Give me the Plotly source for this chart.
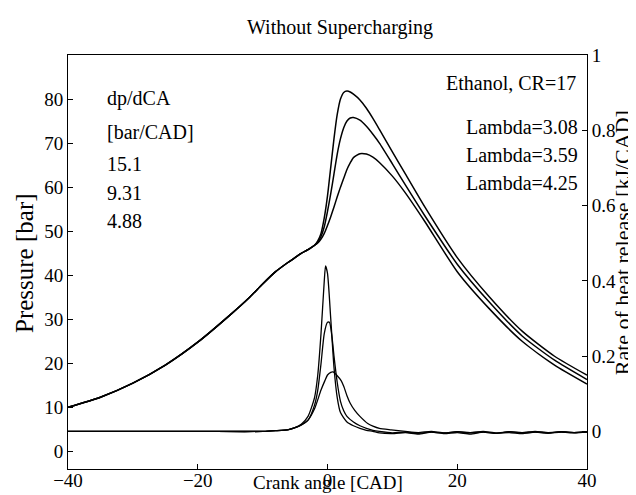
import plotly.graph_objects as go

# ---------------- data ----------------
# shared compression part of the pressure trace
cad_comp = [-40, -35, -30, -25, -20, -15, -12, -10, -8, -6, -5, -4, -3, -2]
p_comp = [10.0, 12.3, 15.5, 19.6, 24.8, 31.0, 35.0, 38.0, 40.8, 43.0, 44.0, 45.0, 45.8, 46.8]

cad_comb = [-1.5, -1, -0.5, 0, 0.5, 1, 1.5, 2, 2.5, 3, 3.5, 4, 5, 6, 7, 8, 10, 12, 15, 20, 25, 30, 35, 40]
p_lam308 = [47.8, 49.5, 53.0, 58.0, 64.5, 71.0, 76.5, 80.0, 81.5, 81.8, 81.6, 81.1, 79.8, 77.9, 75.6, 73.1, 68.0, 63.0, 55.5, 44.0, 35.0, 27.3, 21.6, 17.3]
p_lam359 = [47.5, 48.8, 51.0, 54.5, 58.5, 63.0, 67.5, 71.0, 73.5, 75.0, 75.7, 75.8, 75.2, 73.8, 72.0, 70.0, 65.3, 60.5, 53.5, 42.5, 33.8, 26.2, 20.7, 16.3]
p_lam425 = [47.3, 48.2, 49.5, 51.3, 53.3, 55.5, 57.8, 60.0, 62.0, 64.0, 65.5, 66.7, 67.6, 67.5, 66.8, 65.6, 62.5, 58.7, 52.2, 40.8, 32.3, 25.0, 19.6, 15.3]

# rate of heat release [kJ/CAD]
cad_r1 = [-40, -20, -10, -8, -6, -5, -4, -3, -2, -1.5, -1, -0.5, -0.3, 0, 0.5, 1, 1.5, 2, 3, 4, 5, 6, 7, 8, 10, 12, 14, 16, 18, 20, 22, 24, 26, 28, 30, 32, 34, 36, 38, 40]
r_lam308 = [0, 0, 0, 0.002, 0.005, 0.01, 0.02, 0.04, 0.09, 0.15, 0.26, 0.40, 0.44, 0.42, 0.30, 0.17, 0.09, 0.05, 0.025, 0.015, 0.008, 0.003, 0.0, -0.004, -0.006, -0.003, -0.007, -0.002, -0.006, -0.003, -0.007, -0.002, -0.005, -0.003, -0.006, -0.002, -0.005, -0.002, -0.004, -0.002]
cad_r2 = [-40, -20, -10, -8, -6, -5, -4, -3, -2, -1.5, -1, -0.5, 0, 0.3, 0.7, 1, 1.5, 2, 2.5, 3, 4, 5, 6, 7, 8, 10, 12, 14, 16, 18, 20, 22, 24, 26, 28, 30, 32, 34, 36, 38, 40]
r_lam359 = [0, 0, 0, 0.002, 0.005, 0.01, 0.018, 0.03, 0.07, 0.11, 0.18, 0.26, 0.29, 0.29, 0.25, 0.20, 0.13, 0.08, 0.055, 0.04, 0.025, 0.015, 0.008, 0.003, 0.0, -0.004, -0.002, -0.005, -0.002, -0.004, -0.001, -0.004, -0.002, -0.005, -0.001, -0.004, -0.002, -0.004, -0.001, -0.003, -0.002]
cad_r3 = [-40, -20, -10, -8, -6, -5, -4, -3, -2, -1, -0.4, 0, 0.5, 0.85, 1.5, 2.1, 2.5, 3, 3.5, 4.2, 5, 6.2, 7, 8, 9.8, 12, 14, 16, 18, 20, 22, 24, 26, 28, 30, 32, 34, 36, 38, 40]
r_lam425 = [0, 0, 0, 0.002, 0.005, 0.01, 0.017, 0.03, 0.06, 0.11, 0.135, 0.15, 0.157, 0.158, 0.148, 0.135, 0.12, 0.095, 0.075, 0.056, 0.04, 0.021, 0.014, 0.008, 0.004, 0.0, -0.003, 0.0, -0.004, -0.001, -0.003, 0.0, -0.004, -0.001, -0.003, 0.0, -0.003, -0.001, -0.003, -0.001]

x_ticks = [-40, -20, 0, 20, 40]
p_ticks = [0, 10, 20, 30, 40, 50, 60, 70, 80]
r_ticks = [0, 0.2, 0.4, 0.6, 0.8, 1]

title_text = "Without Supercharging"
left_notes = ["dp/dCA", "[bar/CAD]", "15.1", "9.31", "4.88"]
right_notes = ["Lambda=3.08", "Lambda=3.59", "Lambda=4.25"]
fuel_note = "Ethanol, CR=17"

# ---------------- figure ----------------
FONT = "Liberation Serif, Times New Roman, serif"
fig = go.Figure()

for p in (p_lam308, p_lam359, p_lam425):
    fig.add_trace(go.Scatter(x=cad_comp + cad_comb, y=p_comp + p,
                             mode="lines", line=dict(color="black", width=1.5, shape="spline", smoothing=0.6),
                             showlegend=False, hoverinfo="skip"))

for cx, r in ((cad_r1, r_lam308), (cad_r2, r_lam359), (cad_r3, r_lam425)):
    fig.add_trace(go.Scatter(x=cx, y=r, yaxis="y2",
                             mode="lines", line=dict(color="black", width=1.3, shape="spline", smoothing=0.6),
                             showlegend=False, hoverinfo="skip"))

tick_font = dict(family=FONT, size=19, color="black")
axis_common = dict(showline=True, linecolor="black", linewidth=1, ticks="inside", ticklen=5,
                   tickcolor="black", showgrid=False, zeroline=False, tickfont=tick_font)

fig.update_layout(
    width=636, height=495,
    margin=dict(l=60, r=57, t=47, b=28),
    paper_bgcolor="white", plot_bgcolor="white",
    font=dict(family=FONT, size=19, color="black"),
    xaxis=dict(range=[-40, 40], tickvals=x_ticks, mirror=True, ticklabelstandoff=-6, **axis_common),
    yaxis=dict(range=[-4, 90], tickvals=p_ticks, **axis_common),
    yaxis2=dict(range=[-0.1, 1.001], tickvals=r_ticks, overlaying="y", side="right", **axis_common),
)

def px_x(px):
    return (px - 60) / 519.0

def px_y(py):
    return (467 - py) / 420.0

ann = []
ann.append(dict(text=title_text, x=px_x(332), y=px_y(19), xref="paper", yref="paper",
                showarrow=False, xanchor="center", yanchor="middle", font=dict(size=20)))
ann.append(dict(text="Crank angle [CAD]", x=px_x(320), y=px_y(481), xref="paper", yref="paper",
                showarrow=False, xanchor="center", yanchor="middle", font=dict(size=19)))
ann.append(dict(text="Pressure [bar]", x=px_x(17), y=px_y(258), xref="paper", yref="paper",
                showarrow=False, xanchor="center", yanchor="middle", textangle=-90, font=dict(size=25)))
ann.append(dict(text="Rate of heat release [kJ/CAD]", x=px_x(614), y=px_y(238), xref="paper", yref="paper",
                showarrow=False, xanchor="center", yanchor="middle", textangle=-90, font=dict(size=22)))

left_y = [91, 125, 158, 187, 215]
for t, yy in zip(left_notes, left_y):
    ann.append(dict(text=t, x=px_x(97), y=px_y(yy), xref="paper", yref="paper",
                    showarrow=False, xanchor="left", yanchor="middle", font=dict(size=20)))
ann.append(dict(text=fuel_note, x=px_x(570), y=px_y(75), xref="paper", yref="paper",
                showarrow=False, xanchor="right", yanchor="middle", font=dict(size=20)))
right_y = [120, 148, 177]
for t, yy in zip(right_notes, right_y):
    ann.append(dict(text=t, x=px_x(572), y=px_y(yy), xref="paper", yref="paper",
                    showarrow=False, xanchor="right", yanchor="middle", font=dict(size=20)))

fig.update_layout(annotations=ann)
fig.write_html("out.html")
